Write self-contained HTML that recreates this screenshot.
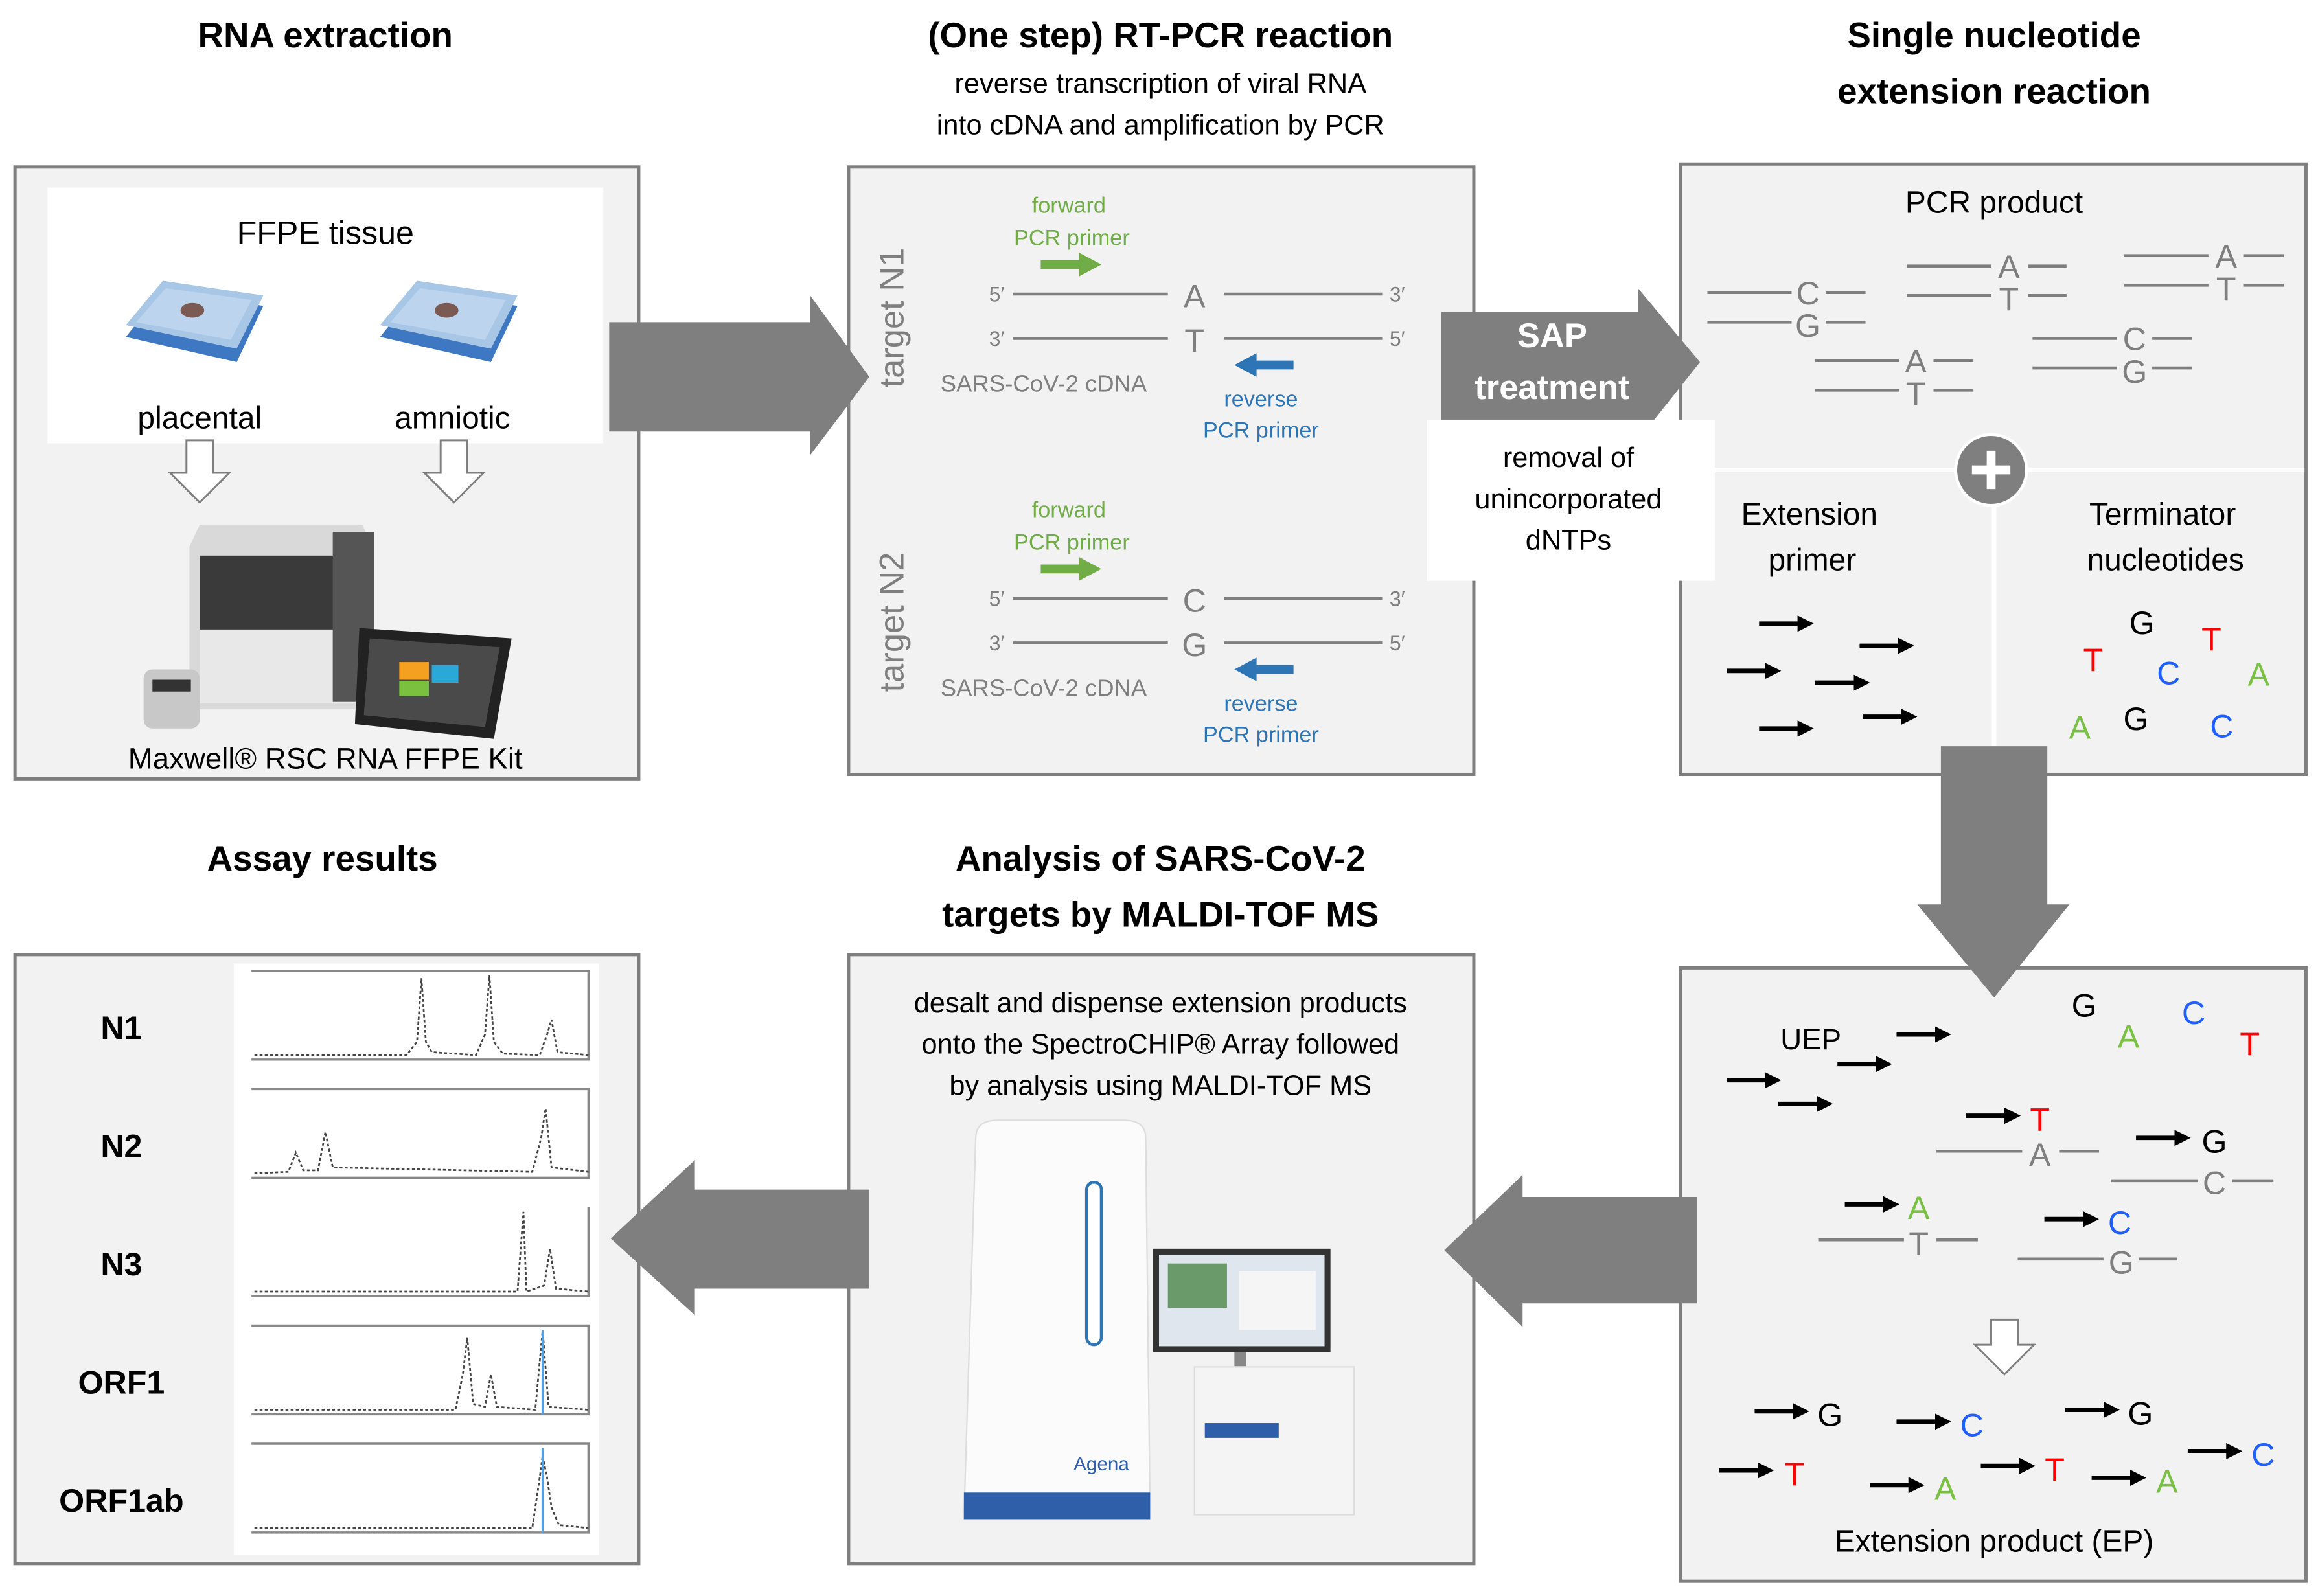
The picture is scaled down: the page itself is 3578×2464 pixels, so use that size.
<!DOCTYPE html>
<html><head><meta charset="utf-8"><style>
html,body{margin:0;padding:0;background:#fff;}
svg{display:block;}
text{font-family:"Liberation Sans",sans-serif;}
</style></head><body>
<svg width="3578" height="2464" viewBox="0 0 1568 1080" xmlns="http://www.w3.org/2000/svg">
<defs>
<marker id="ab" markerWidth="11" markerHeight="11" refX="2" refY="5.5" orient="auto" markerUnits="userSpaceOnUse"><path d="M0,0 L11,5.5 L0,11 z" fill="#000"/></marker>
</defs>
<rect width="1568" height="1080" fill="#fff"/>
<g font-weight="bold" font-size="24" fill="#000" text-anchor="middle">
<text x="220" y="32">RNA extraction</text>
<text x="785" y="32">(One step) RT-PCR reaction</text>
<text x="1349" y="32">Single nucleotide</text>
<text x="1349" y="70">extension reaction</text>
<text x="218" y="589">Assay results</text>
<text x="785" y="589">Analysis of SARS-CoV-2</text>
<text x="785" y="627">targets by MALDI-TOF MS</text>
</g>
<g font-size="19" fill="#000" text-anchor="middle">
<text x="785" y="63">reverse transcription of viral RNA</text>
<text x="785" y="91">into cDNA and amplification by PCR</text>
</g>
<g fill="#f2f2f2" stroke="#7f7f7f" stroke-width="2.2">
<rect x="10" y="113" width="422" height="414"/>
<rect x="574" y="113" width="423" height="411"/>
<rect x="1137" y="111" width="423" height="413"/>
<rect x="10" y="646" width="422" height="412"/>
<rect x="574" y="646" width="423" height="412"/>
<rect x="1137" y="655" width="423" height="415"/>
</g>
<rect x="32" y="127" width="376" height="173" fill="#fff"/>
<text x="220" y="165" font-size="22" text-anchor="middle">FFPE tissue</text>
<text x="135" y="290" font-size="21" text-anchor="middle">placental</text>
<text x="306" y="290" font-size="21" text-anchor="middle">amniotic</text>
<g>
<path d="M85,228 L110,197 L178,207 L160,245 Z" fill="#3f78c2"/>
<path d="M85,220 L110,190 L178,200 L160,236 Z" fill="#a8c6e6"/>
<path d="M92,218 L112,195 L170,203 L156,230 Z" fill="#bcd4ee"/>
<ellipse cx="130" cy="210" rx="8" ry="5" fill="#7a5a52"/>
<path d="M257,228 L282,197 L350,207 L332,245 Z" fill="#3f78c2"/>
<path d="M257,220 L282,190 L350,200 L332,236 Z" fill="#a8c6e6"/>
<path d="M264,218 L284,195 L342,203 L328,230 Z" fill="#bcd4ee"/>
<ellipse cx="302" cy="210" rx="8" ry="5" fill="#7a5a52"/>
</g>
<g fill="#fff" stroke="#7f7f7f" stroke-width="1.3">
<path d="M126,298 L144,298 L144,320 L155,320 L135,340 L115,320 L126,320 Z"/>
<path d="M298,298 L316,298 L316,320 L327,320 L307,340 L287,320 L298,320 Z"/>
</g>
<path d="M128,370 L135,355 L245,355 L252,370 L252,480 L128,480 Z" fill="#d9d9d9"/>
<rect x="135" y="376" width="110" height="50" fill="#3a3a3a"/>
<rect x="135" y="426" width="110" height="50" fill="#e8e8e8"/>
<rect x="225" y="360" width="28" height="115" fill="#555"/>
<path d="M243,425 L346,432 L334,500 L240,490 Z" fill="#222"/>
<path d="M250,432 L338,438 L328,492 L246,484 Z" fill="#4a4a4a"/>
<rect x="270" y="448" width="20" height="12" fill="#f5a020"/>
<rect x="292" y="450" width="18" height="12" fill="#2aa8d8"/>
<rect x="270" y="461" width="20" height="10" fill="#7cc040"/>
<rect x="97" y="453" width="38" height="40" rx="6" fill="#c8c8c8"/>
<rect x="103" y="460" width="26" height="8" fill="#333"/>
<text x="220" y="520" font-size="20" text-anchor="middle">Maxwell® RSC RNA FFPE Kit</text>
<path d="M412,218 L548,218 L548,200 L588,255 L548,308 L548,292 L412,292 Z" fill="#7f7f7f"/>
<g fill="#7f7f7f" font-size="23" text-anchor="middle">
<text transform="translate(611,215) rotate(-90)">target N1</text>
<text transform="translate(611,421) rotate(-90)">target N2</text>
</g>
<g id="pcr">
<g fill="#70ad47" font-size="15" text-anchor="middle"><text x="723" y="144">forward</text><text x="725" y="166">PCR primer</text></g>
<path d="M704,176 L730,176 L730,171 L745,179 L730,187 L730,182 L704,182 Z" fill="#70ad47"/>
<g fill="#7f7f7f" font-size="14"><text x="669" y="204">5′</text><text x="669" y="234">3′</text><text x="940" y="204">3′</text><text x="940" y="234">5′</text></g>
<g stroke="#7f7f7f" stroke-width="2"><line x1="685" y1="199" x2="790" y2="199"/><line x1="828" y1="199" x2="935" y2="199"/><line x1="685" y1="229" x2="790" y2="229"/><line x1="828" y1="229" x2="935" y2="229"/></g>
<path d="M875,244 L850,244 L850,239 L835,247 L850,255 L850,250 L875,250 Z" fill="#2e75b6"/>
<g fill="#2e75b6" font-size="15" text-anchor="middle"><text x="853" y="275">reverse</text><text x="853" y="296">PCR primer</text></g>
<text x="706" y="265" fill="#7f7f7f" font-size="16" text-anchor="middle">SARS-CoV-2 cDNA</text>
</g>
<g fill="#7f7f7f" font-size="22" text-anchor="middle"><text x="808" y="208">A</text><text x="808" y="238">T</text></g>
<use href="#pcr" transform="translate(0,206)"/>
<g fill="#7f7f7f" font-size="22" text-anchor="middle"><text x="808" y="414">C</text><text x="808" y="444">G</text></g>
<path d="M975,211 L1108,211 L1108,195 L1150,245 L1108,298 L1108,298 L975,298 Z" fill="#7f7f7f"/>
<g fill="#fff" font-weight="bold" font-size="23" text-anchor="middle"><text x="1050" y="235">SAP</text><text x="1050" y="270">treatment</text></g>
<rect x="965" y="284" width="195" height="109" fill="#fff"/>
<g font-size="19" text-anchor="middle"><text x="1061" y="316">removal of</text><text x="1061" y="344">unincorporated</text><text x="1061" y="372">dNTPs</text></g>
<line x1="1138" y1="318" x2="1559" y2="318" stroke="#fff" stroke-width="3"/>
<line x1="1349" y1="318" x2="1349" y2="523" stroke="#fff" stroke-width="3"/>
<circle cx="1347" cy="318" r="24" fill="#7f7f7f" stroke="#fff" stroke-width="2"/>
<path d="M1334,318 L1360,318 M1347,305 L1347,331" stroke="#fff" stroke-width="6"/>
<text x="1349" y="144" font-size="21" text-anchor="middle">PCR product</text>
<g stroke="#7f7f7f" stroke-width="2">
<line x1="1155" y1="198" x2="1212" y2="198"/><line x1="1235" y1="198" x2="1262" y2="198"/>
<line x1="1155" y1="218" x2="1212" y2="218"/><line x1="1235" y1="218" x2="1262" y2="218"/>
<line x1="1290" y1="180" x2="1347" y2="180"/><line x1="1372" y1="180" x2="1398" y2="180"/>
<line x1="1290" y1="200" x2="1347" y2="200"/><line x1="1372" y1="200" x2="1398" y2="200"/>
<line x1="1437" y1="173" x2="1494" y2="173"/><line x1="1518" y1="173" x2="1545" y2="173"/>
<line x1="1437" y1="193" x2="1494" y2="193"/><line x1="1518" y1="193" x2="1545" y2="193"/>
<line x1="1228" y1="244" x2="1285" y2="244"/><line x1="1308" y1="244" x2="1335" y2="244"/>
<line x1="1228" y1="264" x2="1285" y2="264"/><line x1="1308" y1="264" x2="1335" y2="264"/>
<line x1="1375" y1="229" x2="1432" y2="229"/><line x1="1456" y1="229" x2="1483" y2="229"/>
<line x1="1375" y1="249" x2="1432" y2="249"/><line x1="1456" y1="249" x2="1483" y2="249"/>
</g>
<g fill="#7f7f7f" font-size="22" text-anchor="middle">
<text x="1223" y="206">C</text><text x="1223" y="228">G</text>
<text x="1359" y="188">A</text><text x="1359" y="210">T</text>
<text x="1506" y="181">A</text><text x="1506" y="203">T</text>
<text x="1296" y="252">A</text><text x="1296" y="274">T</text>
<text x="1444" y="237">C</text><text x="1444" y="259">G</text>
</g>
<g font-size="21" text-anchor="middle"><text x="1224" y="355">Extension</text><text x="1226" y="386">primer</text><text x="1463" y="355">Terminator</text><text x="1465" y="386">nucleotides</text></g>
<g stroke="#000" stroke-width="3" marker-end="url(#ab)">
<line x1="1190" y1="422" x2="1218" y2="422"/><line x1="1258" y1="437" x2="1286" y2="437"/>
<line x1="1168" y1="454" x2="1196" y2="454"/><line x1="1228" y1="462" x2="1256" y2="462"/>
<line x1="1190" y1="493" x2="1218" y2="493"/><line x1="1260" y1="485" x2="1288" y2="485"/>
</g>
<g font-size="22" text-anchor="middle">
<text x="1449" y="429" fill="#000">G</text><text x="1416" y="454" fill="#ff0000">T</text>
<text x="1496" y="440" fill="#ff0000">T</text><text x="1467" y="463" fill="#1f5fff">C</text>
<text x="1528" y="464" fill="#7ac143">A</text><text x="1407" y="500" fill="#7ac143">A</text>
<text x="1445" y="494" fill="#000">G</text><text x="1503" y="499" fill="#1f5fff">C</text>
</g>
<path d="M1313,505 L1385,505 L1385,612 L1400,612 L1349,675 L1297,612 L1313,612 Z" fill="#7f7f7f"/>
<text x="1225" y="710" font-size="20" text-anchor="middle">UEP</text>
<g stroke="#000" stroke-width="3" marker-end="url(#ab)">
<line x1="1283" y1="700" x2="1311" y2="700"/><line x1="1243" y1="720" x2="1271" y2="720"/>
<line x1="1168" y1="731" x2="1196" y2="731"/><line x1="1203" y1="747" x2="1231" y2="747"/>
<line x1="1330" y1="755" x2="1358" y2="755"/><line x1="1445" y1="770" x2="1473" y2="770"/>
<line x1="1248" y1="815" x2="1276" y2="815"/><line x1="1383" y1="825" x2="1411" y2="825"/>
<line x1="1187" y1="955" x2="1215" y2="955"/><line x1="1283" y1="962" x2="1311" y2="962"/>
<line x1="1397" y1="954" x2="1425" y2="954"/><line x1="1163" y1="995" x2="1191" y2="995"/>
<line x1="1265" y1="1005" x2="1293" y2="1005"/><line x1="1340" y1="992" x2="1368" y2="992"/>
<line x1="1415" y1="1000" x2="1443" y2="1000"/><line x1="1480" y1="982" x2="1508" y2="982"/>
</g>
<g stroke="#7f7f7f" stroke-width="2">
<line x1="1310" y1="779" x2="1368" y2="779"/><line x1="1393" y1="779" x2="1420" y2="779"/>
<line x1="1428" y1="799" x2="1487" y2="799"/><line x1="1510" y1="799" x2="1538" y2="799"/>
<line x1="1230" y1="839" x2="1288" y2="839"/><line x1="1310" y1="839" x2="1338" y2="839"/>
<line x1="1365" y1="852" x2="1423" y2="852"/><line x1="1447" y1="852" x2="1473" y2="852"/>
</g>
<g font-size="22" text-anchor="middle">
<text x="1410" y="688" fill="#000">G</text><text x="1440" y="709" fill="#7ac143">A</text>
<text x="1484" y="693" fill="#1f5fff">C</text><text x="1522" y="714" fill="#ff0000">T</text>
<text x="1380" y="765" fill="#ff0000">T</text><text x="1380" y="789" fill="#7f7f7f">A</text>
<text x="1498" y="780" fill="#000">G</text><text x="1498" y="808" fill="#7f7f7f">C</text>
<text x="1298" y="825" fill="#7ac143">A</text><text x="1298" y="849" fill="#7f7f7f">T</text>
<text x="1434" y="835" fill="#1f5fff">C</text><text x="1435" y="862" fill="#7f7f7f">G</text>
<text x="1238" y="965" fill="#000">G</text><text x="1334" y="972" fill="#1f5fff">C</text>
<text x="1448" y="964" fill="#000">G</text><text x="1214" y="1005" fill="#ff0000">T</text>
<text x="1316" y="1015" fill="#7ac143">A</text><text x="1390" y="1002" fill="#ff0000">T</text>
<text x="1466" y="1010" fill="#7ac143">A</text><text x="1531" y="992" fill="#1f5fff">C</text>
</g>
<path d="M1347,893 L1365,893 L1365,910 L1376,910 L1356,930 L1336,910 L1347,910 Z" fill="#fff" stroke="#7f7f7f" stroke-width="1.3"/>
<text x="1349" y="1050" font-size="21" text-anchor="middle">Extension product (EP)</text>
<path d="M1148,810 L1030,810 L1030,795 L977,846 L1030,898 L1030,882 L1148,882 Z" fill="#7f7f7f"/>
<path d="M588,805 L470,805 L470,785 L413,838 L470,890 L470,872 L588,872 Z" fill="#7f7f7f"/>
<g font-size="19" text-anchor="middle"><text x="785" y="685">desalt and dispense extension products</text><text x="785" y="713">onto the SpectroCHIP® Array followed</text><text x="785" y="741">by analysis using MALDI-TOF MS</text></g>
<path d="M660,770 Q660,758 675,758 L760,758 Q775,758 775,770 L778,1028 L652,1028 Z" fill="#fbfbfb" stroke="#ddd"/>
<rect x="735" y="800" width="10" height="110" rx="5" fill="#fff" stroke="#2e75b6" stroke-width="2"/>
<rect x="652" y="1010" width="126" height="18" fill="#2e5fa8"/>
<text x="745" y="995" font-size="13" fill="#2e5fa8" text-anchor="middle">Agena</text>
<rect x="780" y="845" width="120" height="70" fill="#333"/>
<rect x="784" y="849" width="112" height="62" fill="#dfe6ee"/>
<rect x="790" y="855" width="40" height="30" fill="#6a9a6a"/>
<rect x="838" y="860" width="52" height="40" fill="#f5f5f5"/>
<rect x="835" y="915" width="8" height="12" fill="#888"/>
<rect x="808" y="925" width="108" height="100" fill="#f4f4f4" stroke="#ddd"/>
<rect x="815" y="963" width="50" height="10" fill="#2e5fa8"/>
<rect x="158" y="652" width="247" height="400" fill="#fff"/>
<g font-weight="bold" font-size="22" text-anchor="middle"><text x="82" y="703">N1</text><text x="82" y="783">N2</text><text x="82" y="863">N3</text><text x="82" y="943">ORF1</text><text x="82" y="1023">ORF1ab</text></g>
<g stroke="#888" stroke-width="1.5" fill="none">
<path d="M170,657 L398,657 L398,717 L170,717"/><path d="M170,737 L398,737 L398,797 L170,797"/>
<path d="M398,817 L398,877 L170,877"/><path d="M170,897 L398,897 L398,957 L170,957"/><path d="M170,977 L398,977 L398,1037 L170,1037"/>
</g>
<g stroke="#444" stroke-width="1.2" fill="none" stroke-dasharray="2,1.5">
<path d="M172,714 L275,714 L282,705 L285,662 L288,705 L292,712 L322,714 L328,700 L331,660 L334,705 L340,713 L365,714 L370,700 L373,690 L377,712 L398,714"/>
<path d="M172,794 L195,793 L200,780 L205,792 L215,792 L220,766 L225,790 L360,793 L366,770 L369,750 L373,790 L398,793"/>
<path d="M172,874 L350,874 L354,820 L356,874 L368,870 L372,845 L376,872 L398,874"/>
<path d="M172,954 L308,954 L313,930 L316,905 L320,950 L328,952 L332,930 L336,952 L362,954 L367,900 L371,952 L398,954"/>
<path d="M172,1034 L360,1034 L365,1000 L367,985 L370,1000 L373,1020 L378,1032 L398,1034"/>
</g>
<g stroke="#5aa0d8" stroke-width="1.5"><line x1="367" y1="900" x2="367" y2="957"/><line x1="367" y1="980" x2="367" y2="1037"/></g>
</svg>
</body></html>
